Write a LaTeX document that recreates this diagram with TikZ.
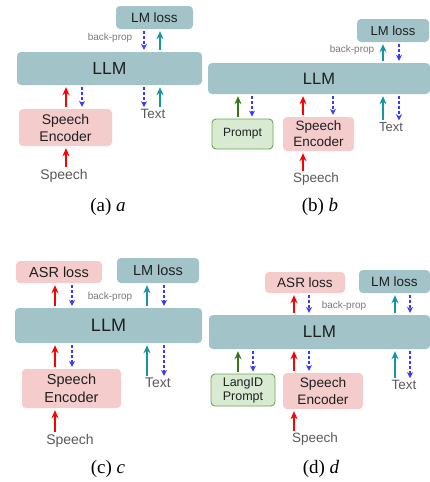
\documentclass[tikz,border=0pt]{standalone}
\usepackage{fontspec}
\setmainfont{Liberation Sans}
\newfontfamily\capfont{Liberation Serif}
\usetikzlibrary{arrows.meta}
\definecolor{llmc}{HTML}{A2C4C9}
\definecolor{pinkc}{HTML}{F4CCCC}
\definecolor{greenfill}{HTML}{D9EAD3}
\definecolor{greenline}{HTML}{6AA84F}
\definecolor{redc}{HTML}{FF0000}
\definecolor{tealc}{HTML}{1496A3}
\definecolor{greenc}{HTML}{38761D}
\definecolor{bluec}{HTML}{3A3AFF}
\definecolor{grayt}{HTML}{5A5A5A}
\definecolor{bpgray}{HTML}{7A7A7A}
\begin{document}
\begin{tikzpicture}[x=1pt,y=-1pt,
  box/.style={rounded corners=4pt, inner sep=0pt, align=center, text=black!88},
  llmbox/.style={box, fill=llmc},
  pinkbox/.style={box, fill=pinkc},
  greenbox/.style={box, fill=greenfill, draw=greenline, line width=0.9pt},
  lbl/.style={inner sep=0pt, text=grayt},
  bp/.style={inner sep=0pt, text=bpgray, font=\fontsize{10}{11}\selectfont},
  captext/.style={inner sep=0pt, font=\capfont\fontsize{19}{21}\selectfont},
  arr/.style={line width=2.2pt, -{Stealth[length=8pt,width=7pt]}, shorten <=2pt, shorten >=2pt},
  redarr/.style={arr, draw=redc},
  tealarr/.style={arr, draw=tealc},
  greenarr/.style={arr, draw=greenc, line width=1.8pt},
  bluearr/.style={draw=bluec, line width=1.1pt, dash pattern=on 3pt off 2pt, -{Stealth[length=6pt,width=6pt]}, shorten <=2pt, shorten >=2pt}
]
\useasboundingbox (0,0) rectangle (430,482);
\fill[white] (0,0) rectangle (430,482);

% ---------------- panel a ----------------
\node[llmbox, minimum width=77pt, minimum height=23pt, font=\fontsize{13.5}{15}\selectfont] (lmA) at (154.5,17.5) {LM loss};
\node[llmbox, minimum width=185pt, minimum height=33pt, font=\fontsize{17.5}{19}\selectfont] (llmA) at (109.5,68.5) {LLM};
\node[pinkbox, minimum width=93pt, minimum height=37pt, font=\fontsize{14}{17}\selectfont] (encA) at (65.5,127.5) {Speech\\Encoder};
\node[lbl, font=\fontsize{13.5}{15}\selectfont] (textA) at (153,114) {Text};
\node[lbl, font=\fontsize{14}{16}\selectfont] (speechA) at (64,176) {Speech};
\node[bp] (bpA) at (110,38) {back-prop};
\node[captext] (capA) at (108,207) {(a) \textit{a}};
\coordinate (a1) at (66,0);
\coordinate (a2) at (82,0);
\coordinate (a3) at (144,0);
\coordinate (a4) at (160,0);
\draw[redarr] (encA.north -| a1) -- (llmA.south -| a1);
\draw[bluearr] (llmA.south -| a2) -- (encA.north -| a2);
\draw[bluearr] (llmA.south -| a3) -- (textA.north -| a3);
\draw[tealarr] (textA.north -| a4) -- (llmA.south -| a4);
\draw[bluearr] (lmA.south -| a3) -- (llmA.north -| a3);
\draw[tealarr] (llmA.north -| a4) -- (lmA.south -| a4);
\draw[redarr] (speechA.north -| a1) -- (encA.south -| a1);

% ---------------- panel b ----------------
\node[llmbox, minimum width=72pt, minimum height=23pt, font=\fontsize{13}{15}\selectfont] (lmB) at (393,30.5) {LM loss};
\node[llmbox, minimum width=222pt, minimum height=31pt, font=\fontsize{16.5}{18}\selectfont] (llmB) at (319,78.5) {LLM};
\node[greenbox, minimum width=61pt, minimum height=30pt, font=\fontsize{12}{14}\selectfont] (promptB) at (242.5,134) {Prompt};
\node[pinkbox, minimum width=71pt, minimum height=34pt, font=\fontsize{13.5}{16}\selectfont] (encB) at (318.5,134) {Speech\\Encoder};
\node[lbl, font=\fontsize{13}{15}\selectfont] (textB) at (391,127) {Text};
\node[lbl, font=\fontsize{13.5}{15}\selectfont] (speechB) at (316,179) {Speech};
\node[bp] (bpB) at (352,50) {back-prop};
\node[captext] (capB) at (320,207) {(b) \textit{b}};
\coordinate (b1) at (238,0);
\coordinate (b2) at (252,0);
\coordinate (b3) at (303,0);
\coordinate (b4) at (333,0);
\coordinate (b5) at (383,0);
\coordinate (b6) at (399,0);
\draw[greenarr] (promptB.north -| b1) -- (llmB.south -| b1);
\draw[bluearr] (llmB.south -| b2) -- (promptB.north -| b2);
\draw[redarr] (encB.north -| b3) -- (llmB.south -| b3);
\draw[bluearr] (llmB.south -| b4) -- (encB.north -| b4);
\draw[tealarr] (textB.north -| b5) -- (llmB.south -| b5);
\draw[bluearr] (llmB.south -| b6) -- (textB.north -| b6);
\draw[tealarr] (llmB.north -| b5) -- (lmB.south -| b5);
\draw[bluearr] (lmB.south -| b6) -- (llmB.north -| b6);
\draw[redarr] (speechB.north -| b3) -- (encB.south -| b3);

% ---------------- panel c ----------------
\node[pinkbox, minimum width=86pt, minimum height=22pt, font=\fontsize{14.5}{16}\selectfont] (asrC) at (59,272) {ASR loss};
\node[llmbox, minimum width=82pt, minimum height=25pt, font=\fontsize{14.5}{16}\selectfont] (lmC) at (158,270.5) {LM loss};
\node[llmbox, minimum width=187pt, minimum height=35pt, font=\fontsize{18}{20}\selectfont] (llmC) at (108.5,325.5) {LLM};
\node[pinkbox, minimum width=99pt, minimum height=39pt, font=\fontsize{14.5}{18}\selectfont] (encC) at (71.5,388.5) {Speech\\Encoder};
\node[lbl, font=\fontsize{14}{16}\selectfont] (textC) at (158,383) {Text};
\node[lbl, font=\fontsize{14}{16}\selectfont] (speechC) at (70,441) {Speech};
\node[bp] (bpC) at (110,297) {back-prop};
\node[captext] (capC) at (108,469) {(c) \textit{c}};
\coordinate (c1) at (55,0);
\coordinate (c2) at (72,0);
\coordinate (c3) at (147,0);
\coordinate (c4) at (164,0);
\draw[redarr] (encC.north -| c1) -- (llmC.south -| c1);
\draw[bluearr] (llmC.south -| c2) -- (encC.north -| c2);
\draw[redarr] (llmC.north -| c1) -- (asrC.south -| c1);
\draw[bluearr] (asrC.south -| c2) -- (llmC.north -| c2);
\draw[tealarr] (textC.north -| c3) -- (llmC.south -| c3);
\draw[bluearr] (llmC.south -| c4) -- (textC.north -| c4);
\draw[tealarr] (llmC.north -| c3) -- (lmC.south -| c3);
\draw[bluearr] (lmC.south -| c4) -- (llmC.north -| c4);
\draw[redarr] (speechC.north -| c1) -- (encC.south -| c1);

% ---------------- panel d ----------------
\node[pinkbox, minimum width=80pt, minimum height=21pt, font=\fontsize{13.5}{15}\selectfont] (asrD) at (305,282.5) {ASR loss};
\node[llmbox, minimum width=71pt, minimum height=23pt, font=\fontsize{13.5}{15}\selectfont] (lmD) at (394.5,281.5) {LM loss};
\node[llmbox, minimum width=221pt, minimum height=34pt, font=\fontsize{17}{19}\selectfont] (llmD) at (319.5,332) {LLM};
\node[greenbox, minimum width=64pt, minimum height=32pt, font=\fontsize{12.5}{14}\selectfont] (promptD) at (243,390) {LangID\\Prompt};
\node[pinkbox, minimum width=80pt, minimum height=36pt, font=\fontsize{13.7}{17}\selectfont] (encD) at (323,391) {Speech\\Encoder};
\node[lbl, font=\fontsize{13.5}{15}\selectfont] (textD) at (404,385) {Text};
\node[lbl, font=\fontsize{13.5}{15}\selectfont] (speechD) at (315,439) {Speech};
\node[bp] (bpD) at (344,306) {back-prop};
\node[captext] (capD) at (321,469) {(d) \textit{d}};
\coordinate (d1) at (238,0);
\coordinate (d2) at (253,0);
\coordinate (d3) at (294,0);
\coordinate (d4) at (309,0);
\coordinate (d5) at (395,0);
\coordinate (d6) at (410,0);
\draw[greenarr] (promptD.north -| d1) -- (llmD.south -| d1);
\draw[bluearr] (llmD.south -| d2) -- (promptD.north -| d2);
\draw[redarr] (encD.north -| d3) -- (llmD.south -| d3);
\draw[bluearr] (llmD.south -| d4) -- (encD.north -| d4);
\draw[redarr] (llmD.north -| d3) -- (asrD.south -| d3);
\draw[bluearr] (asrD.south -| d4) -- (llmD.north -| d4);
\draw[tealarr] (textD.north -| d5) -- (llmD.south -| d5);
\draw[bluearr] (llmD.south -| d6) -- (textD.north -| d6);
\draw[tealarr] (llmD.north -| d5) -- (lmD.south -| d5);
\draw[bluearr] (lmD.south -| d6) -- (llmD.north -| d6);
\draw[redarr] (speechD.north -| d3) -- (encD.south -| d3);
\end{tikzpicture}
\end{document}
